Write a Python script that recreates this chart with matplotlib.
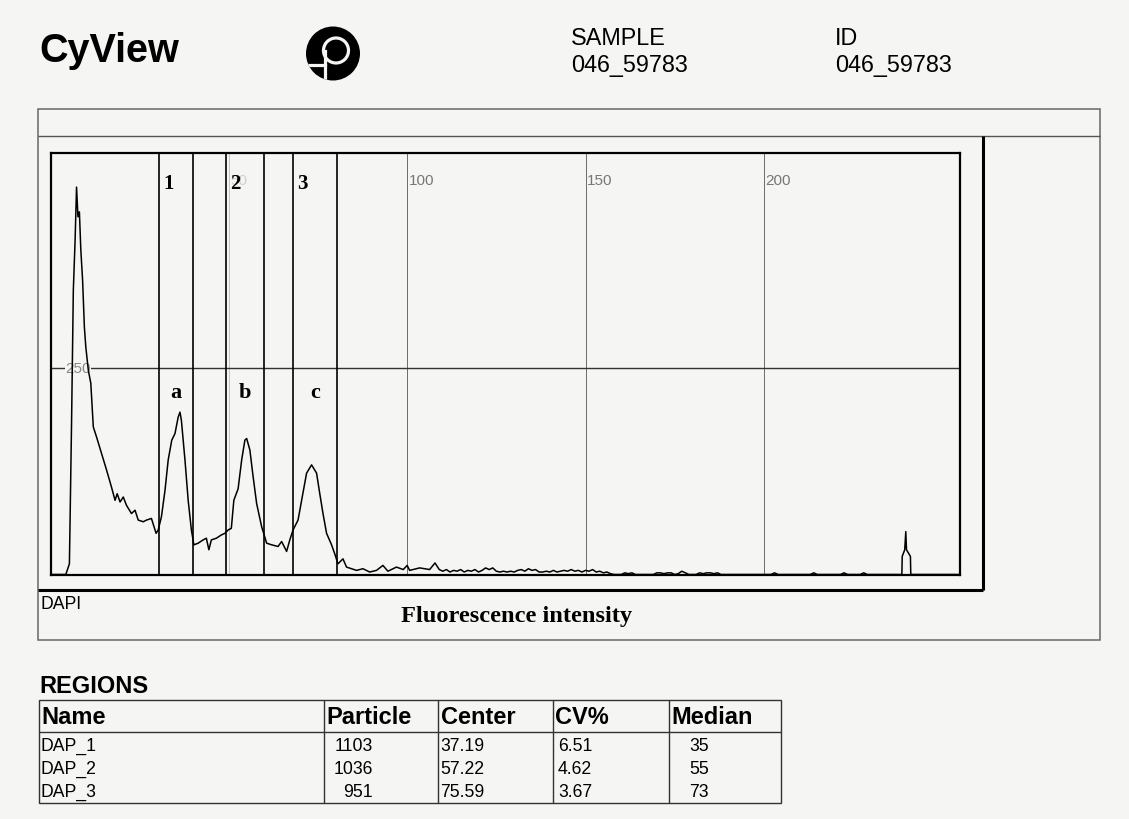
import matplotlib
matplotlib.use('Agg')
import matplotlib.pyplot as plt
from matplotlib.patches import Rectangle, Circle

# ---------------- data ----------------
channels = [0, 4.3, 5.3, 5.9, 6.4, 6.9, 7.3, 7.7, 8.1, 8.5, 9.0, 9.5, 9.9, 10.6, 11.3,
            12.0, 12.9, 14.3, 15.7, 17.1, 18.1, 18.7, 19.5, 20.4, 21.3, 22.7, 23.7,
            24.6, 26.0, 26.9, 28.3, 29.6, 30.2, 31.1, 32.1, 33.0, 34.0, 34.9, 35.8,
            36.3, 36.7, 37.7, 38.6, 39.5, 40.2, 41.4, 42.8, 43.7, 44.4, 45.1, 46.5,
            47.9, 48.9, 49.8, 50.7, 51.4, 52.6, 53.6, 54.5, 55.0, 55.9, 56.8, 57.8,
            59.2, 60.6, 62.0, 63.8, 64.8, 66.2, 67.1, 68.0, 69.4, 70.4, 71.8, 73.2,
            74.6, 75.5, 76.4, 77.4, 78.8, 79.7, 80.6, 82.0, 83.0, 84.4, 85.8, 87.6,
            89.5, 91.4, 93.2, 94.6, 97.0, 98.9, 100.0, 100.7, 103.5, 106.3, 107.8,
            109, 110, 111, 112, 113, 114, 115, 116, 117, 118, 119, 120, 121, 122, 123,
            124, 125, 126, 127, 128, 129, 130, 131, 132, 133, 134, 135, 136, 137, 138,
            139, 140, 141, 142, 143, 144, 145, 146, 147, 148, 149, 150, 151, 152, 153,
            154, 155, 156, 157, 158, 160, 161, 162, 163, 164, 169, 170, 171, 172, 173,
            174, 175, 176, 177, 178, 179, 181, 182, 183, 184, 185, 186, 187, 188,
            202, 203, 204, 213, 214, 215, 221.5, 222.5, 223.5, 227, 228, 229,
            238.7, 238.8, 239.5, 239.8, 240.0, 241.1, 241.2, 255]
counts = [0, 0, 13, 183, 345, 406, 470, 434, 440, 394, 357, 300, 276, 248, 232,
          179, 167, 147, 127, 106, 90, 98, 88, 94, 84, 74, 78,
          66, 64, 66, 68, 50, 54, 70, 102, 139, 163, 171, 191,
          197, 187, 139, 90, 54, 36, 38, 42, 44, 30, 42, 44,
          48, 50, 54, 56, 90, 104, 139, 163, 165, 151, 119, 86,
          58, 38, 36, 34, 40, 28, 42, 54, 66, 90, 123, 133,
          123, 98, 74, 50, 36, 25, 13, 19, 9, 7, 5, 7,
          3, 5, 11, 4, 9, 6, 11, 5, 8, 6, 14,
          6, 4, 6, 3, 5, 4, 6, 3, 5, 4, 6, 3, 5, 8, 6,
          8, 4, 3, 4, 3, 4, 3, 5, 6, 4, 7, 5, 6, 3, 3,
          4, 3, 5, 3, 4, 5, 4, 6, 4, 5, 3, 5, 4, 6, 3,
          4, 2, 3, 1, 0, 0, 2, 1, 2, 0, 0, 2, 2, 1, 2,
          2, 0, 1, 4, 2, 0, 0, 2, 1, 2, 2, 1, 2, 0,
          0, 2, 0, 0, 2, 0, 0, 2, 0, 0, 2, 0,
          0, 22, 30, 52, 30, 22, 0, 0]

region_names = ['1', '2', '3']
region_left = [30.4, 49.2, 68.0]
region_right = [40.0, 59.9, 80.2]
peak_labels = ['a', 'b', 'c']

x_grid = [50, 100, 150, 200]
x_grid_labels = ['50', '100', '150', '200']
y_grid = [250]
y_grid_labels = ['250']

table_columns = ['Name', 'Particle', 'Center', 'CV%', 'Median']
table_names = ['DAP_1', 'DAP_2', 'DAP_3']
table_particle = ['1103', '1036', '951']
table_center = ['37.19', '57.22', '75.59']
table_cv = ['6.51', '4.62', '3.67']
table_median = ['35', '55', '73']

sample_value = '046_59783'
id_value = '046_59783'

# ---------------- figure ----------------
W, H = 1129, 820
BG = '#f5f5f3'
SANS = ['Liberation Sans', 'DejaVu Sans']
SERIF = ['Liberation Serif', 'DejaVu Serif']

fig = plt.figure(figsize=(W / 100, H / 100), dpi=100, facecolor=BG)
ov = fig.add_axes([0, 0, 1, 1])
ov.set_xlim(0, W)
ov.set_ylim(H, 0)
ov.axis('off')
ov.set_facecolor(BG)

def hline(x1, x2, y, **kw):
    ov.plot([x1, x2], [y, y], solid_capstyle='butt', **kw)

def vline(x, y1, y2, **kw):
    ov.plot([x, x], [y1, y2], solid_capstyle='butt', **kw)

# header
ov.text(39, 61.7, 'CyView', family=SANS, fontsize=28.5, fontweight='bold', va='baseline', ha='left')
ov.text(571, 45, 'SAMPLE', family=SANS, fontsize=16.8, va='baseline', ha='left')
ov.text(571, 71.7, sample_value, family=SANS, fontsize=16.8, va='baseline', ha='left')
ov.text(835, 45, 'ID', family=SANS, fontsize=16.8, va='baseline', ha='left')
ov.text(835, 71.7, id_value, family=SANS, fontsize=16.8, va='baseline', ha='left')

# logo
disk = Circle((333, 54.5), 27, facecolor='black', edgecolor='none')
ov.add_patch(disk)
ring = Circle((336, 51.5), 12.5, fill=False, edgecolor=BG, lw=2.3)
ov.add_patch(ring)
ring.set_clip_path(disk)
l1, = ov.plot([324.5, 324.5], [52, 84], color=BG, lw=2.3)
l1.set_clip_path(disk)
l2, = ov.plot([300, 324.5], [66, 66], color=BG, lw=2.3)
l2.set_clip_path(disk)

# panel frames
ov.add_patch(Rectangle((38, 110), 1100 - 38, 641 - 110, fill=False, edgecolor='#666666', lw=1.1))
hline(38, 1100, 137, color='#555555', lw=1.0)
vline(983, 137, 591, color='black', lw=2.2)
hline(38, 983, 591, color='black', lw=2.2)

ov.text(40, 609, 'DAPI', family=SANS, fontsize=12.7, va='baseline', ha='left')
ov.text(401, 621.7, 'Fluorescence intensity', family=SERIF, fontsize=17.6,
        fontweight='bold', va='baseline', ha='left')

# ---------------- histogram axes ----------------
L, R, T, B = 50.5, 960, 153.5, 575.5
ax = fig.add_axes([L / W, 1 - B / H, (R - L) / W, (B - T) / H])
ax.set_xlim(0, 255)
ax.set_ylim(0, 512)
ax.set_facecolor('none')
ax.set_xticks([])
ax.set_yticks([])
for s in ax.spines.values():
    s.set_linewidth(1.6)
    s.set_color('black')

for xg, lab in zip(x_grid, x_grid_labels):
    light = xg == 50
    ax.axvline(xg, color='#c4c4c4' if light else '#6a6a6a', lw=0.7, zorder=1)
    ax.text(xg + 0.4, 474, lab, family=SANS, fontsize=11,
            color='#cfcfcf' if light else '#777777', va='baseline', ha='left', zorder=2)

for yg, lab in zip(y_grid, y_grid_labels):
    ax.axhline(yg, color='#333333', lw=1.0, zorder=1)
    ax.text(7.7, yg, lab, family=SANS, fontsize=11, color='#888888', va='center', ha='center',
            zorder=2, bbox=dict(facecolor=BG, edgecolor='none', pad=0.3))

for name, lo, hi, pl in zip(region_names, region_left, region_right, peak_labels):
    ax.add_patch(Rectangle((lo, 0), hi - lo, 512, fill=False, edgecolor='black', lw=1.2, zorder=3))
    ax.text(lo + 2.7, 469, name, family=SERIF, fontsize=15, fontweight='bold',
            va='baseline', ha='center', zorder=4)
    ax.text((lo + hi) / 2, 215, pl, family=SERIF, fontsize=16, fontweight='bold',
            va='baseline', ha='center', zorder=4)

ax.plot(channels, counts, color='black', lw=1.1, zorder=5, clip_on=True)

# ---------------- regions table ----------------
ov.text(39, 692.7, 'REGIONS', family=SANS, fontsize=17, fontweight='bold', va='baseline', ha='left')
col_bounds = [39, 323.5, 438, 553.4, 669, 781]
t_top, t_head, t_bot = 700.7, 732.7, 804
ov.add_patch(Rectangle((col_bounds[0], t_top), col_bounds[-1] - col_bounds[0], t_bot - t_top,
                       fill=False, edgecolor='#333333', lw=1.0))
hline(col_bounds[0], col_bounds[-1], t_head, color='#333333', lw=1.0)
for xb in col_bounds[1:-1]:
    vline(xb, t_top, t_bot, color='#333333', lw=1.0)

head_x = [41, 326, 440.5, 555, 671]
for hx, col in zip(head_x, table_columns):
    ov.text(hx, 724, col, family=SANS, fontsize=17, fontweight='bold', va='baseline', ha='left')

row_y = [751, 774, 797]
for ry, nm, pa, ce, cv, me in zip(row_y, table_names, table_particle, table_center,
                                  table_cv, table_median):
    kw = dict(family=SANS, fontsize=12.7, va='baseline')
    ov.text(40, ry, nm, ha='left', **kw)
    ov.text(373, ry, pa, ha='right', **kw)
    ov.text(440.5, ry, ce, ha='left', **kw)
    ov.text(558, ry, cv, ha='left', **kw)
    ov.text(689, ry, me, ha='left', **kw)

fig.savefig('out.png', dpi=100, facecolor=BG)
